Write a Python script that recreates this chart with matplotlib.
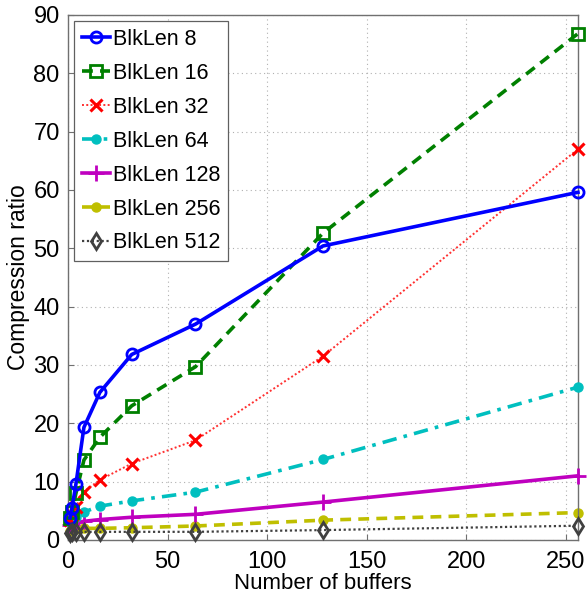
import matplotlib
matplotlib.use("Agg")
import matplotlib.pyplot as plt

plt.rcParams['font.family'] = ['Liberation Sans', 'DejaVu Sans']

# Number of buffers
buffers = [1, 2, 4, 8, 16, 32, 64, 128, 256]

# Compression ratio per block length
blk8 = [3.8, 5.5, 9.6, 19.3, 25.3, 31.8, 37.0, 50.4, 59.6]
blk16 = [3.7, 4.8, 8.0, 13.7, 17.6, 23.0, 29.7, 52.6, 86.8]
blk32 = [3.5, 4.2, 5.7, 8.3, 10.3, 13.1, 17.1, 31.5, 67.0]
blk64 = [3.0, 3.5, 4.0, 4.8, 5.8, 6.7, 8.2, 13.8, 26.2]
blk128 = [2.6, 2.8, 3.0, 3.2, 3.5, 3.9, 4.4, 6.5, 11.0]
blk256 = [1.6, 1.8, 1.9, 2.0, 2.0, 2.1, 2.4, 3.4, 4.7]
blk512 = [1.2, 1.3, 1.35, 1.4, 1.4, 1.4, 1.4, 1.7, 2.45]

labels = ['BlkLen 8', 'BlkLen 16', 'BlkLen 32', 'BlkLen 64',
          'BlkLen 128', 'BlkLen 256', 'BlkLen 512']

fig = plt.figure(figsize=(5.87, 5.98), dpi=100)
ax = fig.add_axes([0.1158, 0.097, 0.8688, 0.878])

ax.plot(buffers, blk8, '-', color='#0000ff', lw=2.6, marker='o', ms=8,
        mfc='none', mew=2, label=labels[0], clip_on=False, zorder=7)
ax.plot(buffers, blk16, '--', color='#008000', lw=2.6, marker='s', ms=8,
        mfc='none', mew=2, label=labels[1], clip_on=False, zorder=6,
        dashes=(3, 2))
ax.plot(buffers, blk32, color='#ff3030', lw=1.4, marker='x', ms=8,
        mew=2.2, mec='#ff0000', label=labels[2], clip_on=False, zorder=5,
        linestyle=(0, (1, 1.2)))
ax.plot(buffers, blk64, '-.', color='#00bfbf', lw=2.6, marker='.', ms=13,
        label=labels[3], clip_on=False, zorder=4, dashes=(4, 2, 1, 2))
ax.plot(buffers, blk128, '-', color='#bf00bf', lw=2.6, marker='+', ms=11,
        mew=2, label=labels[4], clip_on=False, zorder=3)
ax.plot(buffers, blk256, '--', color='#bfbf00', lw=2.6, marker='.', ms=13,
        label=labels[5], clip_on=False, zorder=2, dashes=(3, 2))
ax.plot(buffers, blk512, color='#404040', lw=1.6, marker='d', ms=8,
        mfc='none', mew=2, label=labels[6], clip_on=False, zorder=8,
        linestyle=(0, (1, 1.2)))

ax.set_xlim(0, 256)
ax.set_ylim(0, 90)
ax.set_xticks([0, 50, 100, 150, 200, 250])
ax.set_yticks(range(0, 91, 10))

ax.grid(True, linestyle=(0, (1, 3)), color='#b0b0b0', lw=0.8)
ax.set_axisbelow(True)
for s in ax.spines.values():
    s.set_color('#707070')
    s.set_linewidth(1.0)
ax.tick_params(direction='in', length=4, width=0.8, colors='#707070',
               labelcolor='black', labelsize=17, pad=6)
ax.tick_params(axis='x', pad=8)

ax.set_xlabel('Number of buffers', fontsize=16, labelpad=0)
ax.set_ylabel('Compression ratio', fontsize=16.5, labelpad=2)

leg = ax.legend(loc='upper left', bbox_to_anchor=(0.0, 1.0), fontsize=15.5,
                borderaxespad=0.3, handlelength=1.3, handletextpad=0.15,
                labelspacing=0.6, borderpad=0.35, fancybox=False,
                framealpha=1, edgecolor='#606060')
leg.get_frame().set_linewidth(0.9)

fig.savefig('out.png', dpi=100)
